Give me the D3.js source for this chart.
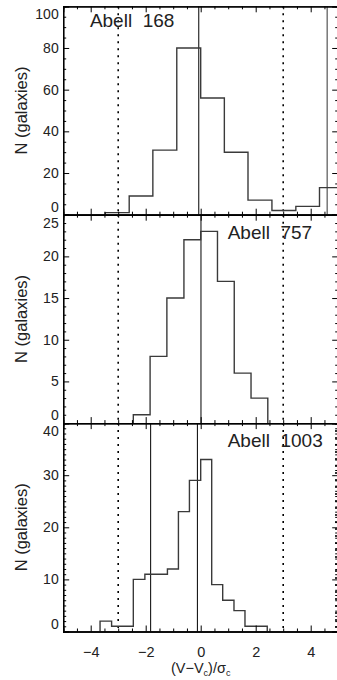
<!DOCTYPE html>
<html>
<head>
<meta charset="utf-8">
<script src="https://cdn.jsdelivr.net/npm/d3@7"></script>
<style>
  body { margin: 0; background: #fff; }
  svg { display: block; font-family: "Liberation Sans", Arial, sans-serif; }
</style>
</head>
<body>
<svg id="chart" width="337" height="680"></svg>
<script>
// Data
const clusters = ["Abell  168", "Abell  757", "Abell  1003"];

const edges168 = [-3.47, -2.6, -1.74, -0.87, 0, 0.86, 1.72, 2.59, 3.46, 4.32, 5.19];
const counts168 = [1, 9, 31, 80, 56, 30, 7, 2, 4, 13];

const edges757 = [-2.45, -1.84, -1.23, -0.61, 0, 0.61, 1.22, 1.83, 2.44];
const counts757 = [1, 8, 15, 22, 23, 17, 6, 3];

const edges1003 = [-3.66, -3.24, -2.84, -2.45, -2.03, -1.63, -1.21, -0.81, -0.41, 0, 0.4, 0.8, 1.21, 1.61, 2.01, 2.42];
const counts1003 = [2, 1, 1, 10, 11, 11, 12, 23, 29, 33, 9, 6, 4, 1, 1];

// vertical reference lines (x in sigma units)
const dotted168 = [-3, 3], solid168 = [-0.07], gray168 = [4.6];
const dotted757 = [-3, 3], solid757 = [0.01], gray757 = [];
const dotted1003 = [-3, 3, 4.92], solid1003 = [-1.82, -0.12], gray1003 = [];

const yMax = [100, 25, 40];
const yMajor = [20, 5, 10];
const yMinor = [5, 1, 1];
const xTicks = [-4, -2, 0, 2, 4];

//Helpers
const translate = (x, y) => `translate(${x}, ${y})`;

const svg = d3.select("#chart");
const left = 63.2, right = 338.2;
const top0 = 6.3, panelH = 208.4;
const textColor = "#222";

const x = d3.scaleLinear().domain([-5, 5]).range([left, right]);

const panels = [
    { name: clusters[0], edges: edges168, counts: counts168, dotted: dotted168, solid: solid168, gray: gray168, titleX: -4.03, titleDy: 21 },
    { name: clusters[1], edges: edges757, counts: counts757, dotted: dotted757, solid: solid757, gray: gray757, titleX: 0.98, titleDy: 24 },
    { name: clusters[2], edges: edges1003, counts: counts1003, dotted: dotted1003, solid: solid1003, gray: gray1003, titleX: 0.98, titleDy: 24 },
];

const fontTick = 14.5;

panels.forEach((p, k) => {
    const pTop = top0 + k * panelH;
    const pBot = pTop + panelH;
    const y = d3.scaleLinear().domain([0, yMax[k]]).range([pBot, pTop]);

    const g = svg.append("g");

    // clip
    const clipId = "clip" + k;
    svg.append("clipPath").attr("id", clipId)
        .append("rect")
        .attr("x", left).attr("y", pTop)
        .attr("width", right - left).attr("height", panelH);

    // vertical lines
    g.selectAll("line.dot")
        .data(p.dotted)
        .join("line")
        .attr("x1", d => x(d)).attr("x2", d => x(d))
        .attr("y1", pTop).attr("y2", pBot)
        .attr("stroke", "#000")
        .attr("stroke-width", 1.6)
        .attr("stroke-dasharray", "2,5");

    g.selectAll("line.solid")
        .data(p.solid)
        .join("line")
        .attr("x1", d => x(d)).attr("x2", d => x(d))
        .attr("y1", pTop).attr("y2", pBot)
        .attr("stroke", "#000")
        .attr("stroke-width", 1);

    g.selectAll("line.gray")
        .data(p.gray)
        .join("line")
        .attr("x1", d => x(d)).attr("x2", d => x(d))
        .attr("y1", pTop).attr("y2", pBot)
        .attr("stroke", "#777")
        .attr("stroke-width", 1.5);

    // histogram as step outline
    const pts = [[p.edges[0], 0]];
    p.counts.forEach((c, i) => {
        pts.push([p.edges[i], c]);
        pts.push([p.edges[i + 1], c]);
    });
    pts.push([p.edges[p.edges.length - 1], 0]);

    g.append("path")
        .attr("clip-path", `url(#${clipId})`)
        .attr("d", d3.line().x(d => x(d[0])).y(d => y(d[1]))(pts))
        .attr("fill", "none")
        .attr("stroke", "#3a3a3a")
        .attr("stroke-width", 1.4);

    // axes: bottom/top/left/right, ticks inward
    const xMinor = d3.range(-4.5, 5, 0.5).filter(v => Math.abs(v % 2) > 1e-6);
    const yMajorVals = d3.range(0, yMax[k] + 1e-6, yMajor[k]);
    const yMinorVals = d3.range(0, yMax[k] + 1e-6, yMinor[k]).filter(v => Math.abs(v % yMajor[k]) > 1e-6);

    const bottom = d3.axisBottom(x).tickValues(xTicks).tickSize(-6).tickFormat(k === 2 ? d3.format("d") : "");
    const bottomMinor = d3.axisBottom(x).tickValues(xMinor).tickSize(-3).tickFormat("");
    const topAx = d3.axisTop(x).tickValues(xTicks).tickSize(-6).tickFormat("");
    const topMinor = d3.axisTop(x).tickValues(xMinor).tickSize(-3).tickFormat("");
    const leftAx = d3.axisLeft(y).tickValues(yMajorVals).tickSize(-6).tickFormat("");
    const leftMinor = d3.axisLeft(y).tickValues(yMinorVals).tickSize(-3).tickFormat("");
    const rightAx = d3.axisRight(y).tickValues(yMajorVals).tickSize(-6).tickFormat("");
    const rightMinor = d3.axisRight(y).tickValues(yMinorVals).tickSize(-3).tickFormat("");

    const axes = [
        [bottom, translate(0, pBot)], [bottomMinor, translate(0, pBot)],
        [topAx, translate(0, pTop)], [topMinor, translate(0, pTop)],
        [leftAx, translate(left, 0)], [leftMinor, translate(left, 0)],
        [rightAx, translate(right, 0)], [rightMinor, translate(right, 0)],
    ];
    axes.forEach(([ax, tr]) => {
        const a = g.append("g").attr("transform", tr).call(ax);
        a.selectAll("path.domain").attr("stroke", "#000").attr("stroke-width", 1.3);
        a.selectAll(".tick line").attr("stroke", "#000").attr("stroke-width", 1);
    });

    // bottom tick labels on last panel
    if (k === 2) {
        g.selectAll(".tick text")
            .attr("font-size", fontTick)
            .attr("font-family", "Liberation Sans, Arial, sans-serif")
            .attr("fill", textColor)
            .attr("y", 15)
            .attr("dy", "0.71em");
    }

    // y tick labels, kept inside the panel vertically
    g.append("g").selectAll("text")
        .data(yMajorVals)
        .join("text")
        .attr("x", left - 4.5)
        .attr("y", d => Math.min(Math.max(y(d), pTop + 8), pBot - 7.8))
        .attr("dy", "0.36em")
        .attr("text-anchor", "end")
        .attr("font-size", 14)
        .attr("fill", textColor)
        .text(d => d);

    // y title
    g.append("text")
        .attr("transform", translate(27, (pTop + pBot) / 2) + " rotate(-90)")
        .attr("text-anchor", "middle")
        .attr("font-size", 16.5)
        .attr("fill", textColor)
        .text("N (galaxies)");

    // cluster name
    g.append("text")
        .attr("x", x(p.titleX))
        .attr("y", pTop + p.titleDy)
        .attr("font-size", 19)
        .attr("fill", textColor)
        .style("white-space", "pre")
        .text(p.name);
});

// x title
const xt = svg.append("text")
    .attr("x", x(0))
    .attr("y", 672.5)
    .attr("text-anchor", "middle")
    .attr("font-size", 14.5)
    .attr("fill", textColor);
xt.append("tspan").text("(V\u2212V");
xt.append("tspan").attr("font-size", 9).attr("dy", 3).text("c");
xt.append("tspan").attr("dy", -3).text(")/\u03c3");
xt.append("tspan").attr("font-size", 9).attr("dy", 3).text("c");
</script>
</body>
</html>
